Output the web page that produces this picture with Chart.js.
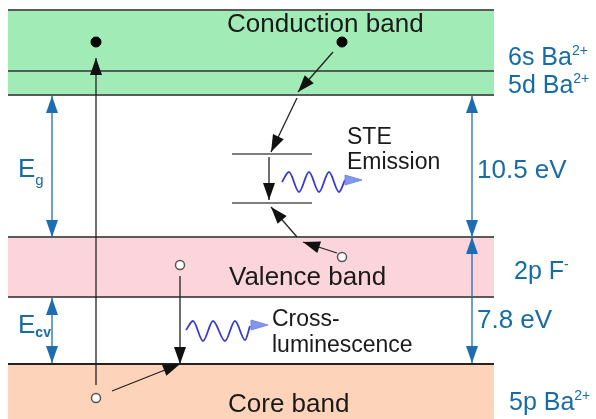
<!DOCTYPE html>
<html><head><meta charset="utf-8">
<script src="https://cdn.jsdelivr.net/npm/chart.js@4"></script>
<style>html,body{margin:0;padding:0;background:#fff}canvas{display:block}</style>
</head><body>
<canvas id="c" width="596" height="419"></canvas>
<script>
// ---------- data (diagram units: x to the right, energy axis drawn downward) ----------
const bandNames   = ['Conduction band', 'Valence band', 'Core band'];
const bandTop     = [10, 237, 364];
const bandBottom  = [95, 297, 419];
const bandSpan    = [8, 494];
const cbSublevel  = [71];                 // 6s / 5d boundary inside the conduction band
const steLevels   = [154, 203];
const steSpan     = [232, 312];
const orbitalNames   = ['6s Ba', '5d Ba', '2p F', '5p Ba'];
const orbitalCharges = ['2+', '2+', '-', '2+'];
const gapValues   = ['10.5 eV', '7.8 eV'];
const gapSymbols  = [['E', 'g'], ['E', 'cv']];
const processLabels = [['STE', 'Emission'], ['Cross-', 'luminescence']];
// double arrows: [x, from, to]
const gapArrows   = [[52, 96, 237], [52, 298, 363], [472, 96, 237], [472, 237, 363]];
const electrons   = [[96, 42], [342, 42]];
const holes       = [[96, 398], [180, 265], [342, 257]];
// single arrows: [x0, y0, x1(tip), y1(tip)]
const transitions = [[96, 385, 96, 58], [333, 52, 298, 92], [297, 98, 271, 152], [269, 157, 269, 200],
                     [337, 253, 303, 242], [297, 237, 271, 207], [180, 276, 180, 364], [112, 391, 180, 364]];
// photon waves: start, crests/troughs, end
const steWave = [[282, 182], [289, 172], [299, 192], [309, 172], [319, 192], [329, 172], [339, 192], [345, 180]];
const clWave  = [[186, 330], [193, 321], [203, 341], [213, 321], [225, 341], [235, 321], [245, 340], [250, 326]];
const steHead = [[345, 180], [362, 180]];
const clHead  = [[250, 325], [268, 325]];

// ---------- styles ----------
const FONT = '"Liberation Sans", Arial, sans-serif';
const INK = '#1a1a1a';
const BLUE_TXT = '#176ca6';
const BLUE_ARR = '#1e6db3';
const bandColors = ['#a0ebb6', '#fcd5dc', '#fdd4b9'];
const bandLineColors = ['#5a5a5a', '#5a5a5a', '#222222'];
const WAVE = '#3a3ad2';
const WAVE_HEAD = '#8196ee';

const pts = arr => arr.map(p => ({x: p[0], y: p[1]}));
const datasets = [];
function line(data, opts) {
  datasets.push(Object.assign({data, showLine: true, pointRadius: 0, borderWidth: 1.5,
    borderColor: INK, fill: false, order: 3}, opts));
}

// band fills
bandTop.forEach((t, i) => {
  line([{x: bandSpan[0], y: t}, {x: bandSpan[1], y: t}],
    {borderWidth: 0, fill: {value: bandBottom[i]}, backgroundColor: bandColors[i], order: 10});
});
// band edges
bandTop.forEach((t, i) => {
  line([{x: bandSpan[0], y: t}, {x: bandSpan[1], y: t}], {borderColor: bandLineColors[i], borderWidth: 2, order: 8});
  if (bandBottom[i] < 419)
    line([{x: bandSpan[0], y: bandBottom[i]}, {x: bandSpan[1], y: bandBottom[i]}], {borderColor: bandLineColors[i], borderWidth: 2, order: 8});
});
cbSublevel.forEach(y => line([{x: bandSpan[0], y}, {x: bandSpan[1], y}], {borderColor: '#333', borderWidth: 1.5, order: 8}));
// STE levels
steLevels.forEach(y => line([{x: steSpan[0], y}, {x: steSpan[1], y}], {borderColor: '#555', borderWidth: 1.5, order: 8}));
// gap arrows
gapArrows.forEach(a => line([{x: a[0], y: a[1]}, {x: a[0], y: a[2]}],
  {borderColor: BLUE_ARR, borderWidth: 1.3, order: 5, headStart: true, headEnd: true, headColor: BLUE_ARR}));
// transitions
transitions.forEach(a => line([{x: a[0], y: a[1]}, {x: a[2], y: a[3]}],
  {borderColor: '#222', borderWidth: 1.3, order: 5, headEnd: true, headColor: '#111'}));
// waves
[steWave, clWave].forEach(w => line(pts(w), {borderColor: WAVE, borderWidth: 1.8, cubicInterpolationMode: 'monotone', order: 5}));
[steHead, clHead].forEach(h => line(pts(h), {borderWidth: 0, order: 5, headEnd: true, headColor: WAVE_HEAD, headLen: 17, headHalf: 5, headStroke: '#6a7fe0'}));
// electrons & holes
datasets.push({data: pts(electrons), showLine: false, pointRadius: 5, pointBackgroundColor: '#000', pointBorderColor: '#000', order: 1});
datasets.push({data: pts(holes), showLine: false, pointRadius: 4.5, pointBackgroundColor: '#fff', pointBorderColor: '#555', pointBorderWidth: 1.5, order: 1});

// ---------- label layout ----------
const labelLayout = [
  {parts: [{t: bandNames[0]}], x: 227, y: 32, size: 26, color: INK},
  {parts: [{t: bandNames[1]}], x: 229, y: 285, size: 26, color: INK},
  {parts: [{t: bandNames[2]}], x: 228, y: 412, size: 26, color: INK},
  {parts: [{t: processLabels[0][0]}], x: 347, y: 144, size: 23, color: INK},
  {parts: [{t: processLabels[0][1]}], x: 347, y: 169, size: 23, color: INK},
  {parts: [{t: processLabels[1][0]}], x: 272, y: 326, size: 23, color: INK},
  {parts: [{t: processLabels[1][1]}], x: 272, y: 352, size: 23, color: INK},
  {parts: [{t: orbitalNames[0]}, {t: orbitalCharges[0], size: 14, dy: -10}], x: 508, y: 65, size: 25, color: BLUE_TXT},
  {parts: [{t: orbitalNames[1]}, {t: orbitalCharges[1], size: 14, dy: -10}], x: 508, y: 93, size: 25, color: BLUE_TXT},
  {parts: [{t: orbitalNames[2]}, {t: orbitalCharges[2], size: 14, dy: -10}], x: 514, y: 279, size: 25, color: BLUE_TXT},
  {parts: [{t: orbitalNames[3]}, {t: orbitalCharges[3], size: 14, dy: -10}], x: 509, y: 410, size: 25, color: BLUE_TXT},
  {parts: [{t: gapValues[0]}], x: 477, y: 178, size: 26, color: BLUE_TXT},
  {parts: [{t: gapValues[1]}], x: 477, y: 328, size: 26, color: BLUE_TXT},
  {parts: [{t: gapSymbols[0][0]}, {t: gapSymbols[0][1], size: 15, dy: 8}], x: 18, y: 177, size: 26, color: BLUE_TXT},
  {parts: [{t: gapSymbols[1][0]}, {t: gapSymbols[1][1], size: 14, dy: 4, bold: true}], x: 18, y: 333, size: 26, color: BLUE_TXT}
];

const arrowPlugin = {
  id: 'arrows',
  afterDatasetsDraw(chart) {
    const ctx = chart.ctx;
    chart.data.datasets.forEach((ds, i) => {
      if (!ds.headEnd && !ds.headStart) return;
      const el = chart.getDatasetMeta(i).data;
      const len = ds.headLen || 17, hw = ds.headHalf || 6;
      const draw = (tip, from) => {
        const a = Math.atan2(tip.y - from.y, tip.x - from.x);
        ctx.save(); ctx.translate(tip.x, tip.y); ctx.rotate(a);
        ctx.beginPath(); ctx.moveTo(0, 0); ctx.lineTo(-len, -hw); ctx.lineTo(-len, hw); ctx.closePath();
        ctx.fillStyle = ds.headColor; ctx.fill();
        if (ds.headStroke) { ctx.strokeStyle = ds.headStroke; ctx.lineWidth = 0.8; ctx.stroke(); }
        ctx.restore();
      };
      if (ds.headEnd) draw(el[el.length - 1], el[el.length - 2]);
      if (ds.headStart) draw(el[0], el[1]);
    });
  }
};
const textPlugin = {
  id: 'texts',
  afterDraw(chart) {
    const ctx = chart.ctx, sx = chart.scales.x, sy = chart.scales.y;
    ctx.save(); ctx.textBaseline = 'alphabetic'; ctx.textAlign = 'left';
    labelLayout.forEach(L => {
      let x = sx.getPixelForValue(L.x); const y = sy.getPixelForValue(L.y);
      ctx.fillStyle = L.color;
      L.parts.forEach(p => {
        ctx.font = (p.bold ? 'bold ' : '') + (p.size || L.size) + 'px ' + FONT;
        ctx.fillText(p.t, x, y + (p.dy || 0));
        x += ctx.measureText(p.t).width + (p.size ? 1 : 0);
      });
    });
    ctx.restore();
  }
};

new Chart(document.getElementById('c'), {
  type: 'scatter',
  data: {datasets},
  options: {
    responsive: false, animation: false, devicePixelRatio: 1,
    layout: {padding: 0, autoPadding: false},
    plugins: {legend: {display: false}, tooltip: {enabled: false}},
    elements: {line: {tension: 0}},
    scales: {
      x: {type: 'linear', min: 0, max: 596, display: false},
      y: {type: 'linear', min: 0, max: 419, reverse: true, display: false}
    }
  },
  plugins: [arrowPlugin, textPlugin]
});
</script>
</body></html>
